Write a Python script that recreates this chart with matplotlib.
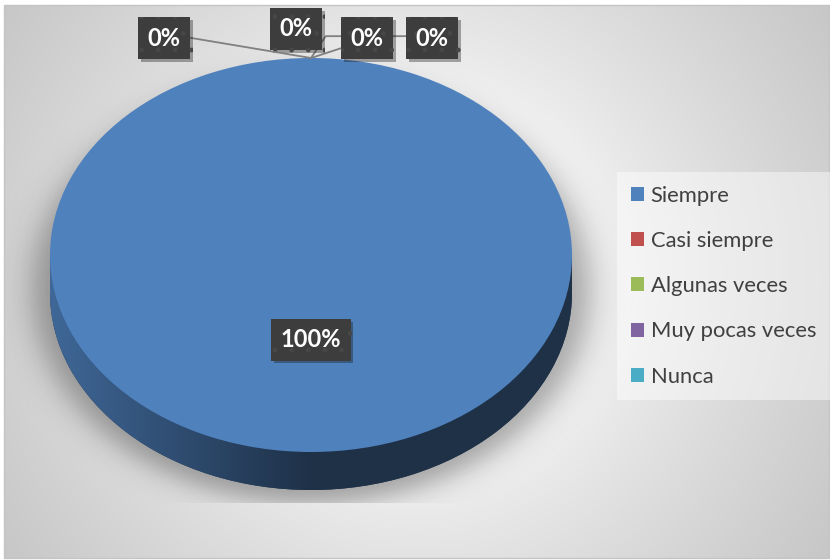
import matplotlib
matplotlib.use('Agg')
import matplotlib.pyplot as plt
import matplotlib.patheffects as pe
from matplotlib.colors import to_rgb
from matplotlib.patches import Rectangle
import numpy as np

# data
categories = ['Siempre', 'Casi siempre', 'Algunas veces', 'Muy pocas veces', 'Nunca']
values = [100, 0, 0, 0, 0]
colors = ['#4f81bd', '#c0504d', '#9bbb59', '#8064a2', '#4bacc6']

W, H = 830, 560
plt.rcParams['font.family'] = ['Lato', 'DejaVu Sans']
plt.rcParams['hatch.linewidth'] = 1.0

fig = plt.figure(figsize=(W / 100, H / 100), dpi=100)
fig.patch.set_facecolor('white')

# --- chart area: radial grey gradient + soft shadow under the pie
ax_bg = fig.add_axes([0, 0, 1, 1])
yy, xx = np.mgrid[5:558, 4:829] + 0.5
r = np.hypot(xx - 415, yy - 280)
t = np.clip((r - 120) / 375, 0, 1) ** 0.8
bg = 1 - 0.22 * t
ax_bg.imshow(np.dstack([bg] * 3), extent=(4, 829, 558, 5), interpolation='bilinear')

rn = np.hypot((xx - 311) / 278, (yy - 290) / 213)
shadow = 0.33 / (1 + np.exp((rn - 1) / 0.035))
shadow[yy > 503] = 0
rgba = np.zeros(xx.shape + (4,))
rgba[..., 3] = shadow
ax_bg.imshow(rgba, extent=(4, 829, 558, 5), interpolation='bilinear')
ax_bg.add_patch(Rectangle((4, 5), 825, 553, fill=False, ec='#c4c4c4', lw=1))
ax_bg.set_xlim(0, W)
ax_bg.set_ylim(H, 0)
ax_bg.set_aspect('auto')
ax_bg.axis('off')

# --- 3D-looking pie: side (lower ellipse) + top face
depth = 38 / 197
ax = fig.add_axes([50 / W, 1 - 490 / H, 522 / W, 432 / H])
side_colors = [tuple(0.4 * np.array(to_rgb(c))) for c in colors]
side_w, _ = ax.pie(values, colors=side_colors, startangle=90, counterclock=False,
                   center=(0, -depth), wedgeprops=dict(lw=0, zorder=1))
band = Rectangle((-1, -depth), 2, depth, fc=side_colors[0], lw=0, zorder=1)
ax.add_patch(band)

gx = np.linspace(-1, 1, 300)
fac = np.interp(gx, [-1, 0], [0.8, 0.38])
for w, c, v in zip(side_w, colors, values):
    if v == 0:
        continue
    grad = fac[None, :, None] * np.array(to_rgb(c))[None, None, :]
    for clip in (w, band):
        im = ax.imshow(grad, extent=(-1, 1, -1 - depth, 1 - depth), aspect='auto',
                       interpolation='bilinear', zorder=2)
        im.set_clip_path(clip)

total = sum(values)
wedges, texts, autotexts = ax.pie(
    values, colors=colors, startangle=90, counterclock=False,
    autopct=lambda p: '{:.0f}%'.format(p) if p > 0 else '',
    pctdistance=0.43, wedgeprops=dict(lw=0, zorder=3),
    textprops=dict(color='white', fontsize=17, fontweight='bold'))

ax.set_aspect('auto')
ax.set_xlim(-1, 1)
ax.set_ylim(-1 - depth, 1)
ax.axis('off')

box = dict(boxstyle='square,pad=0.4', fc='#3d3d3d', ec='#474747', lw=0, hatch='.')
shadow_fx = [pe.SimplePatchShadow(offset=(2, -2), alpha=0.35), pe.Normal()]

for at in autotexts:
    if at.get_text():
        at.set_bbox(box)
        at.set_zorder(8)
        at.get_bbox_patch().set_path_effects(shadow_fx)

# labels of the empty slices with leader lines
zero_pos = [(164, 38), (296, 29), (367, 38), (432, 38)]
leaders = [('arc3,rad=0', (1, 0.58)), None,
           ('angle,angleA=0,angleB=56,rad=0', (0, 0.58)),
           ('angle,angleA=0,angleB=18,rad=0', (0, 0.58))]
k = 0
for w, v in zip(wedges, values):
    if v > 0:
        continue
    ang = np.deg2rad((w.theta1 + w.theta2) / 2)
    px, py = zero_pos[k]
    ap = None
    if leaders[k]:
        ap = dict(arrowstyle='-', color='#808080', lw=1.3, connectionstyle=leaders[k][0],
                  relpos=leaders[k][1], shrinkA=0, shrinkB=0)
    ann = ax.annotate('{:.0%}'.format(v / total), xy=(np.cos(ang), np.sin(ang)),
                      xytext=(px, H - py), textcoords='figure pixels',
                      ha='center', va='center', color='white', fontsize=17,
                      fontweight='bold', bbox=box, arrowprops=ap,
                      zorder=20 - k, annotation_clip=False)
    ann.get_bbox_patch().set_path_effects(shadow_fx)
    k += 1

leg = ax.legend(wedges, categories, loc='upper left',
                bbox_to_anchor=(617 / W, 1 - 172 / H), bbox_transform=fig.transFigure,
                borderaxespad=0, fontsize=15.8, frameon=True, fancybox=False,
                facecolor='white', framealpha=0.45, edgecolor='none',
                handlelength=0.6, handleheight=0.6, handletextpad=0.32,
                labelspacing=1.15, borderpad=0.62)
for txt in leg.get_texts():
    txt.set_color('#404040')

fig.savefig('out.png', dpi=100)
